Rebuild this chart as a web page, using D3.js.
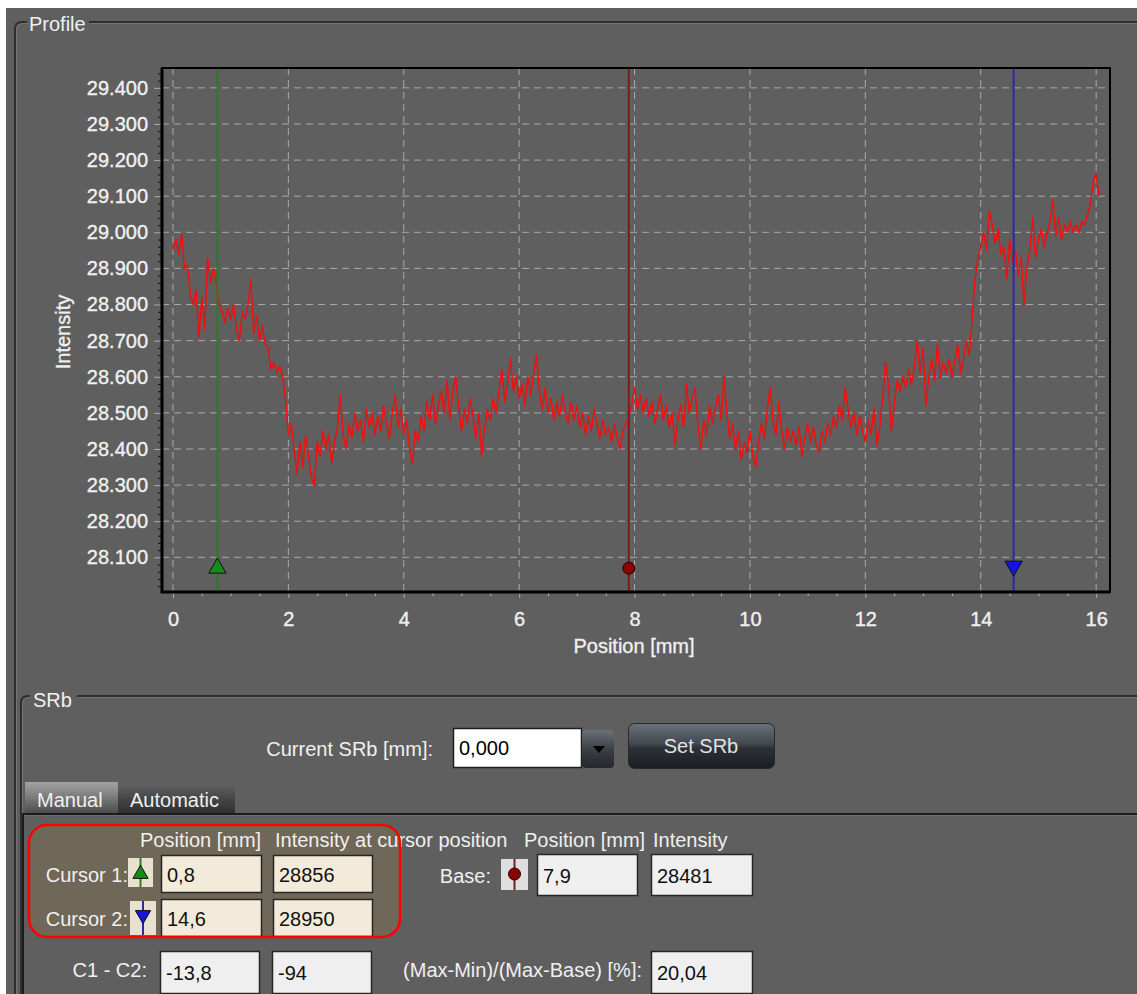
<!DOCTYPE html>
<html>
<head>
<meta charset="utf-8">
<script src="https://cdn.jsdelivr.net/npm/d3@7"></script>
<style>
    body { margin: 0; background: #ffffff; }
    svg { display: block; font-family: "Liberation Sans", Arial, sans-serif; }
    .chart-text { stroke: #f0f0f0; stroke-width: 0.35px; }
</style>
</head>
<body>
<div id="chart"></div>
<script>
// profile samples, every 0.05 mm starting at 0 mm
const startPosition = 0;
const sampleStep = 0.05;
const intensity = [
    28950, 28980, 28940, 28995, 28900, 28910, 28830, 28800, 28840, 28710, 28820, 28730, 28930, 28860, 28900, 28860, 28800, 28780, 28750, 28790,
    28760, 28800, 28730, 28700, 28780, 28760, 28800, 28870, 28720, 28770, 28700, 28740, 28690, 28680, 28620, 28640, 28610, 28630, 28600, 28540,
    28440, 28470, 28400, 28330, 28420, 28350, 28440, 28380, 28320, 28300, 28420, 28380, 28450, 28400, 28440, 28360, 28420, 28460, 28550, 28440,
    28400, 28470, 28430, 28500, 28450, 28480, 28420, 28510, 28460, 28500, 28440, 28490, 28450, 28520, 28470, 28430, 28500, 28550, 28460, 28510,
    28440, 28480, 28400, 28360, 28450, 28420, 28490, 28450, 28530, 28480, 28550, 28470, 28520, 28560, 28500, 28590, 28480, 28560, 28600, 28520,
    28450, 28510, 28470, 28540, 28490, 28430, 28500, 28380, 28460, 28510, 28480, 28540, 28500, 28560, 28620, 28530, 28580, 28650, 28560, 28600,
    28540, 28580, 28520, 28600, 28550, 28610, 28660, 28560, 28510, 28570, 28500, 28540, 28480, 28530, 28490, 28550, 28500, 28470, 28530, 28480,
    28520, 28460, 28500, 28440, 28490, 28450, 28510, 28470, 28430, 28480, 28440, 28460, 28420, 28470, 28430, 28400, 28450, 28470, 28490, 28520,
    28570, 28510, 28550, 28500, 28540, 28490, 28530, 28470, 28510, 28550, 28480, 28520, 28460, 28500, 28410, 28480, 28520, 28460, 28580, 28500,
    28540, 28570, 28460, 28400, 28480, 28440, 28520, 28470, 28510, 28550, 28480, 28600, 28500, 28430, 28470, 28400, 28450, 28370, 28420, 28390,
    28450, 28380, 28350, 28420, 28470, 28430, 28510, 28570, 28480, 28440, 28530, 28450, 28400, 28460, 28420, 28450, 28410, 28460, 28380, 28430,
    28470, 28420, 28460, 28410, 28390, 28450, 28420, 28470, 28440, 28490, 28460, 28520, 28480, 28570, 28510, 28460, 28500, 28440, 28490, 28450,
    28420, 28480, 28440, 28510, 28410, 28460, 28540, 28640, 28580, 28450, 28520, 28590, 28560, 28600, 28570, 28620, 28580, 28630, 28700, 28610,
    28680, 28520, 28600, 28650, 28590, 28690, 28600, 28640, 28610, 28650, 28600, 28640, 28690, 28610, 28650, 28700, 28660, 28760, 28870, 28930,
    28960, 29000, 28950, 29060, 29020, 28970, 29010, 28940, 28960, 28870, 28980, 28920, 28950, 28880, 28930, 28800, 28900, 28950, 29040, 28930,
    28980, 29010, 28960, 29000, 29030, 29090, 28990, 29040, 28980, 29020, 29000, 29030, 29000, 29020, 29000, 29030, 29020, 29050, 29080, 29140,
    29160, 29100
];

const xTicks = [0, 2, 4, 6, 8, 10, 12, 14, 16];
const yTicks = [28100, 28200, 28300, 28400, 28500, 28600, 28700, 28800, 28900, 29000, 29100, 29200, 29300, 29400];

// cursors: position in mm, marker level in intensity
const cursorIds = ["cursor1", "base", "cursor2"];
const cursorPositions = [0.77, 7.9, 14.57];
const cursorColors = ["#2b7a2b", "#7d1c1c", "#2b2ba0"];
const markerColors = ["#178a17", "#8b0000", "#1515e0"];
const markerLevel = 28070;

const xLabel = "Position [mm]";
const yLabel = "Intensity";

// form values
const tabLabels = ["Manual", "Automatic"];
const headerLabels = ["Position [mm]", "Intensity at cursor position", "Position [mm]", "Intensity"];
const cursorLabels = ["Cursor 1:", "Cursor 2:"];
const cursorPositionText = ["0,8", "14,6"];
const cursorIntensityText = ["28856", "28950"];
const baseText = ["7,9", "28481"];
const diffText = ["-13,8", "-94"];
const ratioLabel = "(Max-Min)/(Max-Base) [%]:";
const ratioText = "20,04";
const currentSrbText = "0,000";

const W = 1137, H = 994;
const plot = {left: 162, top: 68, width: 948, height: 524};
const panelGray = "#5f5f5f";

const svg = d3.select("#chart").append("svg")
    .attr("width", W)
    .attr("height", H);

const defs = svg.append("defs");
function gradient(id, stops) {
    const g = defs.append("linearGradient").attr("id", id)
        .attr("x1", 0).attr("y1", 0).attr("x2", 0).attr("y2", 1);
    stops.forEach(s => g.append("stop").attr("offset", s[0]).attr("stop-color", s[1]));
}
gradient("btnGrad", [[0, "#6a717a"], [0.45, "#42484f"], [0.55, "#2c3137"], [1, "#1b1e22"]]);
gradient("dropGrad", [[0, "#6c727a"], [0.5, "#3b4046"], [1, "#24272b"]]);
gradient("tabOn", [[0, "#a2a2a2"], [0.5, "#7a7a7a"], [1, "#4c4c4c"]]);
gradient("tabOff", [[0, "#606060"], [0.5, "#454545"], [1, "#303030"]]);

// window background
svg.append("rect").attr("width", W).attr("height", H).attr("fill", "#ffffff");
svg.append("rect").attr("x", 6).attr("y", 8).attr("width", W - 6).attr("height", H - 8).attr("fill", panelGray);

// group boxes (dark line + light etch)
function groupBox(x, y, gapFrom, gapTo) {
    const p = `M${x},${H} V${y + 7} Q${x},${y} ${x + 7},${y} H${gapFrom} M${gapTo},${y} H${W}`;
    svg.append("path").attr("d", p).attr("fill", "none").attr("stroke", "#2f2f2f").attr("stroke-width", 2);
    svg.append("path").attr("d", p).attr("fill", "none").attr("stroke", "#767676").attr("stroke-width", 1)
        .attr("transform", "translate(1.5,1.5)");
}
groupBox(15, 22, 27, 89);
groupBox(21, 696, 30, 77);

const labelColor = "#f0f0f0";
function label(txt, x, yy, anchor, color) {
    return svg.append("text").attr("x", x).attr("y", yy)
        .attr("text-anchor", anchor || "start")
        .attr("fill", color || labelColor)
        .attr("font-size", 20)
        .text(txt);
}
label("Profile", 29, 31);
label("SRb", 33, 707);

// ---------------- chart ----------------
const x = d3.scaleLinear().domain([-0.19, 16.24]).range([0, plot.width]);
const y = d3.scaleLinear().domain([28004, 29455]).range([plot.height, 0]);

const g = svg.append("g").attr("transform", `translate(${plot.left},${plot.top})`);

// grid
g.append("g").selectAll("line").data(yTicks).join("line")
    .attr("x1", 0).attr("x2", plot.width)
    .attr("y1", d => y(d)).attr("y2", d => y(d))
    .attr("stroke", "#a9a9a9").attr("stroke-dasharray", "7,5");
g.append("g").selectAll("line").data(xTicks).join("line")
    .attr("x1", d => x(d)).attr("x2", d => x(d))
    .attr("y1", 0).attr("y2", plot.height)
    .attr("stroke", "#a9a9a9").attr("stroke-dasharray", "7,5");

// axes
const fmt = d3.format(",");
const yAxis = g.append("g")
    .call(d3.axisLeft(y).tickValues(yTicks).tickSize(8).tickPadding(6)
        .tickFormat(d => fmt(d).replace(",", ".")));
const yMinor = g.append("g")
    .call(d3.axisLeft(y).tickValues(d3.range(28020, 29455, 20).filter(v => v % 100 !== 0))
        .tickSize(4).tickFormat(""));
const xAxis = g.append("g").attr("transform", `translate(0,${plot.height})`)
    .call(d3.axisBottom(x).tickValues(xTicks).tickSize(6).tickPadding(0));
const xMinor = g.append("g").attr("transform", `translate(0,${plot.height})`)
    .call(d3.axisBottom(x).tickValues(d3.range(0.5, 16.1, 0.5).filter(v => v % 2 !== 0))
        .tickSize(4).tickFormat(""));

[yAxis, yMinor, xAxis, xMinor].forEach(a => a.select(".domain").remove());
yAxis.selectAll("line").attr("stroke", "#a9a9a9");
yMinor.selectAll("line").attr("stroke", "#111");
xAxis.selectAll("line").attr("stroke", "#a9a9a9");
xMinor.selectAll("line").attr("stroke", "#b5b5b5");
yAxis.selectAll("text").attr("class", "chart-text").attr("fill", labelColor).attr("font-size", 20).attr("font-family", null);
xAxis.selectAll("text").attr("class", "chart-text").attr("fill", labelColor).attr("font-size", 20).attr("font-family", null)
    .attr("y", 34).attr("dy", null);

g.append("text").attr("class", "chart-text")
    .attr("x", plot.width / 2 - 2).attr("y", plot.height + 61)
    .attr("text-anchor", "middle").attr("fill", labelColor).attr("font-size", 20)
    .text(xLabel);
g.append("text").attr("class", "chart-text")
    .attr("transform", `translate(${70 - plot.left},${plot.height / 2 + 2}) rotate(-90)`)
    .attr("text-anchor", "middle").attr("fill", labelColor).attr("font-size", 20)
    .text(yLabel);

// profile line
const profile = intensity.map((v, i) => ({pos: startPosition + i * sampleStep, value: v}));
g.append("path")
    .datum(profile)
    .attr("fill", "none")
    .attr("stroke", "#f01010")
    .attr("stroke-width", 1.5)
    .attr("stroke-linejoin", "round")
    .attr("d", d3.line().x(d => x(d.pos)).y(d => y(d.value)));

// cursors
const cursors = cursorIds.map((id, i) => ({id, pos: cursorPositions[i], color: cursorColors[i], marker: markerColors[i]}));
g.append("g").selectAll("line").data(cursors).join("line")
    .attr("x1", d => x(d.pos)).attr("x2", d => x(d.pos))
    .attr("y1", 0).attr("y2", plot.height)
    .attr("stroke", d => d.color).attr("stroke-width", 2);

const tri = d3.symbol().type(d3.symbolTriangle).size(130);
g.append("path").attr("d", tri())
    .attr("transform", `translate(${x(cursors[0].pos)},${y(markerLevel)})`)
    .attr("fill", cursors[0].marker).attr("stroke", "#111").attr("stroke-width", 1);
g.append("circle")
    .attr("cx", x(cursors[1].pos)).attr("cy", y(markerLevel)).attr("r", 6)
    .attr("fill", cursors[1].marker).attr("stroke", "#2a0000").attr("stroke-width", 1);
g.append("path").attr("d", tri())
    .attr("transform", `translate(${x(cursors[2].pos)},${y(markerLevel) - 2}) rotate(180)`)
    .attr("fill", cursors[2].marker).attr("stroke", "#111").attr("stroke-width", 1);

// frame
g.append("rect").attr("width", plot.width).attr("height", plot.height)
    .attr("fill", "none").attr("stroke", "#000").attr("stroke-width", 2);
g.append("path").attr("d", `M0,0 V${plot.height} H${plot.width}`)
    .attr("fill", "none").attr("stroke", "#000").attr("stroke-width", 3);

// ---------------- SRb form ----------------
label("Current SRb [mm]:", 433, 756, "end");
svg.append("rect").attr("x", 453.5).attr("y", 728.5).attr("width", 128).attr("height", 39)
    .attr("fill", "#fff").attr("stroke", "#1e1e1e").attr("stroke-width", 1.5);
label(currentSrbText, 459, 755, "start", "#000");
svg.append("rect").attr("x", 582).attr("y", 730).attr("width", 32).attr("height", 38).attr("rx", 4)
    .attr("fill", "url(#dropGrad)");
svg.append("path").attr("d", "M593,746 h12 l-6,7 z").attr("fill", "#000");

svg.append("rect").attr("x", 628.5).attr("y", 723.5).attr("width", 146).attr("height", 45).attr("rx", 6)
    .attr("fill", "url(#btnGrad)").attr("stroke", "#26292d");
label("Set SRb", 701, 753, "middle", "#e2e2e2");

// tabs
svg.append("rect").attr("x", 25).attr("y", 782).attr("width", 93).attr("height", 31).attr("fill", "url(#tabOn)");
svg.append("rect").attr("x", 118).attr("y", 785).attr("width", 117).attr("height", 28).attr("fill", "url(#tabOff)");
label(tabLabels[0], 37, 807);
label(tabLabels[1], 130, 807);
svg.append("line").attr("x1", 22).attr("x2", W).attr("y1", 814).attr("y2", 814).attr("stroke", "#1b1b1b").attr("stroke-width", 2);
svg.append("line").attr("x1", 22).attr("x2", W).attr("y1", 815.5).attr("y2", 815.5).attr("stroke", "#6e6e6e").attr("stroke-width", 1);
svg.append("line").attr("x1", 23).attr("x2", 23).attr("y1", 814).attr("y2", H).attr("stroke", "#1b1b1b").attr("stroke-width", 2);

// highlighted cursor block
svg.append("rect").attr("x", 29).attr("y", 825).attr("width", 371).attr("height", 112).attr("rx", 18)
    .attr("fill", "#6f6757");

[[140, headerLabels[0]], [275, headerLabels[1]], [524, headerLabels[2]], [653, headerLabels[3]]]
    .forEach(h => label(h[1], h[0], 847));

function field(xx, yy, w, h, txt, fill) {
    svg.append("rect").attr("x", xx + 0.5).attr("y", yy + 0.5).attr("width", w).attr("height", h)
        .attr("fill", fill).attr("stroke", "#262626").attr("stroke-width", 1.5);
    label(txt, xx + 6, yy + h / 2 + 8, "start", "#111");
}
const cream = "#f3ebd9", light = "#efefef";
const rowTops = [855, 899];
cursorLabels.forEach((c, i) => {
    label(c, 128, rowTops[i] + 27, "end");
    field(161, rowTops[i], 100, 37, cursorPositionText[i], cream);
    field(273, rowTops[i], 99, 37, cursorIntensityText[i], cream);
});

// cursor icons
svg.append("rect").attr("x", 128).attr("y", 858).attr("width", 25).attr("height", 29).attr("fill", "#e9e1cf");
svg.append("line").attr("x1", 140.5).attr("x2", 140.5).attr("y1", 858).attr("y2", 887).attr("stroke", cursorColors[0]).attr("stroke-width", 2);
svg.append("path").attr("d", d3.symbol().type(d3.symbolTriangle).size(100)())
    .attr("transform", "translate(140.5,874)").attr("fill", markerColors[0]).attr("stroke", "#111");
svg.append("rect").attr("x", 130).attr("y", 901).attr("width", 26).attr("height", 34).attr("fill", "#e9e1cf");
svg.append("line").attr("x1", 143).attr("x2", 143).attr("y1", 901).attr("y2", 935).attr("stroke", cursorColors[2]).attr("stroke-width", 2);
svg.append("path").attr("d", d3.symbol().type(d3.symbolTriangle).size(100)())
    .attr("transform", "translate(143,915) rotate(180)").attr("fill", markerColors[2]).attr("stroke", "#111");

// base
label("Base:", 491, 883, "end");
svg.append("rect").attr("x", 501).attr("y", 859).attr("width", 27).attr("height", 31).attr("fill", "#dedede");
svg.append("line").attr("x1", 514.5).attr("x2", 514.5).attr("y1", 859).attr("y2", 890).attr("stroke", cursorColors[1]).attr("stroke-width", 2);
svg.append("circle").attr("cx", 514.5).attr("cy", 874).attr("r", 6).attr("fill", markerColors[1]).attr("stroke", "#2a0000");
field(537, 854, 100, 41, baseText[0], light);
field(651, 854, 101, 41, baseText[1], light);

svg.append("rect").attr("x", 29).attr("y", 825).attr("width", 371).attr("height", 112).attr("rx", 18)
    .attr("fill", "none").attr("stroke", "#ff0000").attr("stroke-width", 2.5);

// differences
label("C1 - C2:", 147, 977, "end");
field(160, 951, 99, 42, diffText[0], light);
field(272, 951, 99, 42, diffText[1], light);
label(ratioLabel, 642, 977, "end");
field(651, 951, 101, 42, ratioText, light);
</script>
</body>
</html>
